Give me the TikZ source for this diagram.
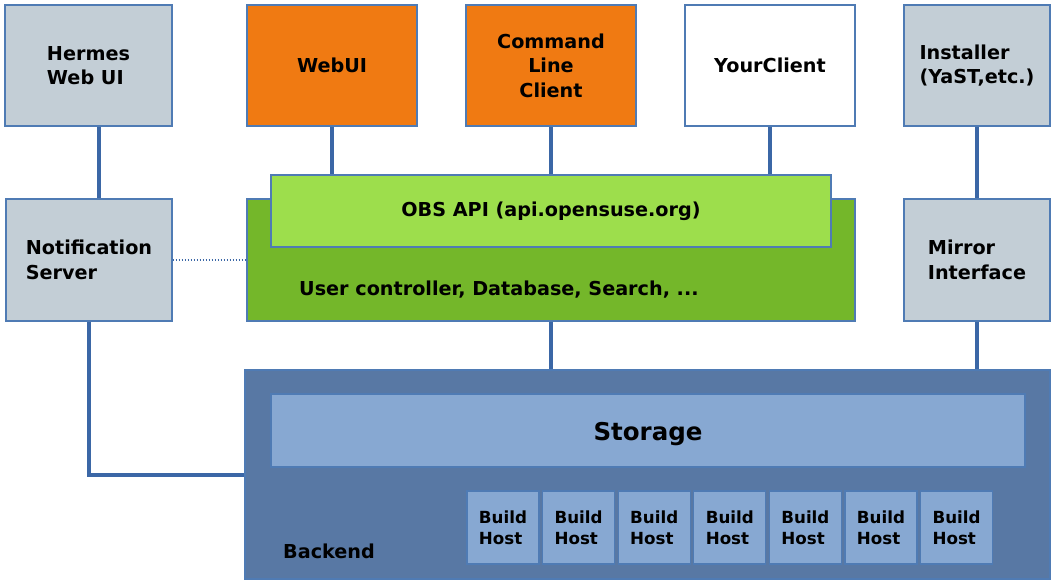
\documentclass[tikz,border=0pt]{standalone}
\usepackage{fontspec}
\setmainfont{DejaVu Sans}
\definecolor{greyfill}{HTML}{C3CED6}
\definecolor{bordercol}{HTML}{4F7BB4}
\definecolor{orangefill}{HTML}{F07A12}
\definecolor{connblue}{HTML}{3B67A6}
\definecolor{darkgreen}{HTML}{74B72A}
\definecolor{lightgreen}{HTML}{9DDE4C}
\definecolor{backendfill}{HTML}{5878A4}
\definecolor{storagefill}{HTML}{87A8D2}
\tikzset{
  box/.style={draw=bordercol, line width=1.2pt, rectangle, inner sep=0pt,
    font=\bfseries\fontsize{19.2}{24.5}\selectfont, text=black},
  conn/.style={draw=connblue, line width=4pt},
  dotconn/.style={draw=connblue, line width=1.2pt, dash pattern=on 1.6pt off 1.4pt},
  hostbox/.style={box, fill=storagefill, minimum width=72pt, minimum height=73pt,
    align=left, font=\bfseries\fontsize{16.7}{21}\selectfont},
  label/.style={inner sep=0pt, font=\bfseries\fontsize{19.2}{24.5}\selectfont, text=black}
}
\begin{document}
\begin{tikzpicture}[x=1pt,y=-1pt]
\useasboundingbox (0,0) rectangle (1058,586);
\coordinate (hx) at (98.5,0);

% backend area
\node[box, fill=backendfill, minimum width=805pt, minimum height=209pt] (backend) at (647.5,474.5) {};
\node[box, fill=storagefill, minimum width=754pt, minimum height=73pt] (storage) at (648,430.5) {};
\node[label, anchor=base, font=\bfseries\fontsize{24.5}{28}\selectfont] (storagelabel) at (648,440.5) {Storage};
\foreach \i in {0,...,6} {
  \node[hostbox] (host\i) at ({503+75.6*\i},527.5) {Build\\Host};
}
\node[label, anchor=base west] (backendlabel) at (283,558) {Backend};

% top row
\node[box, fill=greyfill, minimum width=167pt, minimum height=121pt, align=left] (hermes) at (88.5,65.5) {Hermes\\Web UI};
\node[box, fill=orangefill, minimum width=170pt, minimum height=121pt] (webui) at (332,65.5) {WebUI};
\node[box, fill=orangefill, minimum width=170pt, minimum height=121pt, align=center] (clc) at (551,65.5) {Command\\Line\\Client};
\node[box, fill=white, minimum width=170pt, minimum height=121pt] (yourclient) at (770,65.5) {YourClient};
\node[box, fill=greyfill, minimum width=146pt, minimum height=121pt, align=left] (installer) at (977,65.5) {Installer\\(YaST,etc.)};

% middle row
\node[box, fill=greyfill, minimum width=166pt, minimum height=122pt, align=left] (notif) at (89,260) {Notification\\Server};
\node[box, fill=darkgreen, minimum width=608pt, minimum height=122pt] (logic) at (551,260) {};
\node[box, fill=lightgreen, minimum width=560pt, minimum height=72pt] (api) at (551,211) {OBS API (api.opensuse.org)};
\node[label, anchor=west] (logictext) at (299,290) {User controller, Database, Search, ...};
\node[box, fill=greyfill, minimum width=146pt, minimum height=122pt, align=left] (mirror) at (977,260) {Mirror\\Interface};

% connectors
\draw[conn] (hermes.south -| hx) -- (notif.north -| hx);
\draw[conn] (webui.south) -- (webui.south |- api.north);
\draw[conn] (clc.south) -- (clc.south |- api.north);
\draw[conn] (yourclient.south) -- (yourclient.south |- api.north);
\draw[conn] (installer.south) -- (mirror.north);
\draw[conn] (logic.south) -- (logic.south |- backend.north);
\draw[conn] (mirror.south) -- (mirror.south |- backend.north);
\draw[conn] (notif.south) |- (backend.west);
\draw[dotconn] (notif.east) -- (logic.west);
\end{tikzpicture}
\end{document}
